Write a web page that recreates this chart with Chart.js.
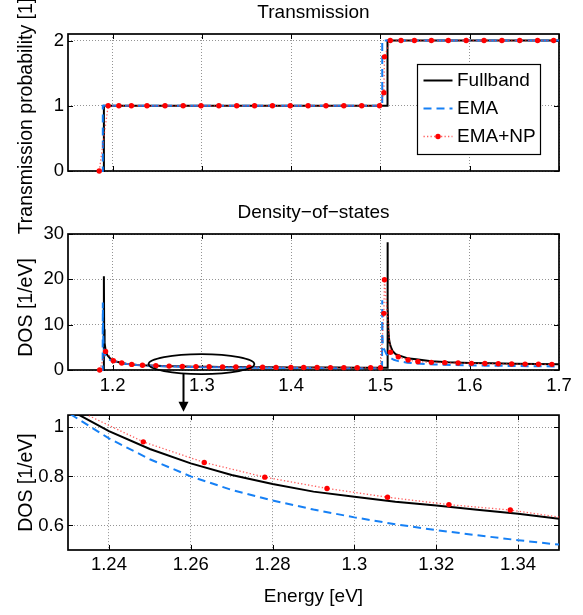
<!DOCTYPE html>
<html><head><meta charset="utf-8">
<script src="https://cdn.jsdelivr.net/npm/chart.js@4/dist/chart.umd.min.js"></script>
<style>
html,body{margin:0;padding:0;background:#fff;}
#wrap{position:relative;width:583px;height:615px;overflow:hidden;background:#fff;}
canvas{position:absolute;left:0;}
</style></head><body>
<div id="wrap">
<canvas id="c1" width="583" height="240" style="top:0px"></canvas>
<canvas id="c2" width="583" height="225" style="top:195px"></canvas>
<canvas id="c3" width="583" height="215" style="top:400px"></canvas>
</div>
<script>
// ---------------- DATA ----------------
const seriesNames = ['Fullband', 'EMA', 'EMA+NP'];

// Transmission panel
const transFullE = [1.185, 1.1902, 1.1902, 1.5079, 1.5079, 1.7];
const transFullT = [0, 0, 1, 1, 2, 2];
const transEmaE  = [1.185, 1.189, 1.189, 1.502, 1.502, 1.7];
const transEmaT  = [0, 0, 1, 1, 2, 2];
const transNpE = [1.185, 1.195, 1.207, 1.221, 1.2385, 1.2587, 1.279, 1.299, 1.319, 1.339,
                  1.359, 1.379, 1.399, 1.419, 1.439, 1.459, 1.479, 1.499, 1.5038, 1.5045,
                  1.511, 1.523, 1.538, 1.557, 1.576, 1.596, 1.616, 1.636, 1.656, 1.676,
                  1.694];
const transNpT = [0, 1, 1, 1, 1, 1, 1, 1, 1, 1,
                  1, 1, 1, 1, 1, 1, 1, 1, 1.2, 1.75,
                  2, 2, 2, 2, 2, 2, 2, 2, 2, 2,
                  2];

// Density-of-states panel (also used by the zoomed panel)
const dosFullE = [1.185, 1.1901, 1.1902, 1.1905, 1.191, 1.192, 1.194, 1.197, 1.2, 1.205,
                  1.21, 1.215, 1.22, 1.225, 1.23, 1.24, 1.25, 1.26, 1.27, 1.28,
                  1.29, 1.3, 1.31, 1.32, 1.33, 1.34, 1.35, 1.375, 1.4, 1.425,
                  1.45, 1.475, 1.5, 1.5077, 1.5079, 1.5082, 1.5088, 1.5098, 1.5112, 1.5135,
                  1.517, 1.524, 1.53, 1.54, 1.557, 1.576, 1.6, 1.625, 1.65, 1.675,
                  1.7];
const dosFull  = [0, 0, 20.7, 9, 6, 4.5, 3.3, 2.6, 2.2, 1.8,
                  1.55, 1.38, 1.26, 1.16, 1.075, 0.985, 0.912, 0.853, 0.806, 0.769,
                  0.738, 0.717, 0.697, 0.681, 0.664, 0.648, 0.627, 0.595, 0.57, 0.55,
                  0.53, 0.515, 0.5, 0.495, 28.2, 14, 9, 6.5, 5.3, 4.2,
                  3.5, 3.0, 2.6, 2.35, 1.95, 1.72, 1.55, 1.47, 1.4, 1.32,
                  1.25];
const dosEmaE = [1.185, 1.1888, 1.189, 1.1893, 1.1898, 1.1905, 1.192, 1.195, 1.2, 1.21,
                 1.22, 1.23, 1.24, 1.25, 1.26, 1.27, 1.28, 1.29, 1.3, 1.31,
                 1.32, 1.33, 1.34, 1.35, 1.375, 1.4, 1.425, 1.45, 1.475, 1.5,
                 1.5018, 1.502, 1.5022, 1.5026, 1.5035, 1.505, 1.5067, 1.51, 1.515, 1.52,
                 1.53, 1.54, 1.55, 1.56, 1.58, 1.6, 1.62, 1.65, 1.675, 1.7];
const dosEma  = [0, 0, 14.9, 8.5, 5.5, 4.0, 3.0, 2.4, 1.95, 1.5,
                 1.25, 1.06, 0.955, 0.87, 0.8, 0.745, 0.702, 0.665, 0.633, 0.605,
                 0.581, 0.56, 0.54, 0.522, 0.485, 0.455, 0.43, 0.41, 0.395, 0.38,
                 0.38, 15.4, 8, 6.0, 4.9, 4.2, 3.5, 2.8, 2.25, 1.96,
                 1.62, 1.44, 1.32, 1.23, 1.1, 1.03, 0.96, 0.88, 0.83, 0.78];
const dosNpE = [1.1855, 1.1921, 1.2008, 1.2102, 1.2214, 1.2334, 1.2484, 1.2633, 1.2781, 1.2933,
                1.3081, 1.3231, 1.3381, 1.3531, 1.368, 1.383, 1.3997, 1.414, 1.429, 1.444,
                1.459, 1.474, 1.489, 1.5, 1.5038, 1.5045, 1.5112, 1.52, 1.531, 1.542,
                1.557, 1.572, 1.587, 1.602, 1.617, 1.632, 1.647, 1.662, 1.677, 1.692];
const dosNp  = [0, 4.1, 2.05, 1.55, 1.24, 1.061, 0.941, 0.857, 0.797, 0.751,
                0.715, 0.685, 0.663, 0.627, 0.595, 0.575, 0.56, 0.548, 0.536, 0.525,
                0.515, 0.505, 0.497, 0.49, 12.5, 19.9, 3.9, 2.9, 2.2, 1.84,
                1.69, 1.62, 1.55, 1.47, 1.42, 1.38, 1.33, 1.3, 1.27, 1.25];

// Axis ticks
const mainXTicks  = [1.2, 1.3, 1.4, 1.5, 1.6, 1.7];
const transYTicks = [0, 1, 2];
const dosYTicks   = [0, 10, 20, 30];
const zoomXTicks  = [1.24, 1.26, 1.28, 1.3, 1.32, 1.34];
const zoomYTicks  = [0.6, 0.8, 1];

// Zoom annotation (data units of DOS panel)
const zoomEllipse = {cx: 1.2995, cy: 1.3, rx: 0.0593, ry: 2.2, arrowX: 1.2787};

// ---------------- STYLE ----------------
const FONT = "'Liberation Sans', Arial, Helvetica, sans-serif";
const BLUE = 'rgb(22,128,245)';
const GRID = 'rgba(0,0,0,0.42)';
Chart.defaults.font.family = FONT;
Chart.defaults.font.size = 18.5;
Chart.defaults.color = '#000';

const fmt = v => String(parseFloat(Number(v).toFixed(6)));
const xy = (xs, ys) => xs.map((v, i) => ({x: v, y: ys[i]}));
// trailing spaces shift a centred, rotated axis title towards the axis bottom
const padTitle = (t, n) => t + '\u00a0'.repeat(n);

function makeDatasets(full, ema, np, clip) {
  return [
    {label: seriesNames[0], data: full, borderColor: '#000', borderWidth: 2, pointRadius: 0, order: 3, clip},
    {label: seriesNames[1], data: ema, borderColor: BLUE, borderWidth: 2, borderDash: [8, 5], pointRadius: 0, order: 2, clip},
    {label: seriesNames[2], data: np, borderColor: 'rgba(255,40,40,0.75)', borderWidth: 1.3, borderDash: [1.3, 2.2],
     pointRadius: 2.7, pointBackgroundColor: '#ff0000', pointBorderColor: '#ff0000', pointBorderWidth: 0, order: 1, clip}
  ];
}

const frameTicks = {
  id: 'frameTicks',
  beforeDatasetsDraw(chart) {
    const {ctx, chartArea: a, scales: {x, y}} = chart;
    ctx.save();
    ctx.strokeStyle = '#000';
    ctx.lineWidth = 1;
    ctx.beginPath();
    x.ticks.forEach(t => {
      const p = Math.round(x.getPixelForValue(t.value)) + 0.5;
      ctx.moveTo(p, a.bottom); ctx.lineTo(p, a.bottom - 5);
      ctx.moveTo(p, a.top); ctx.lineTo(p, a.top + 5);
    });
    y.ticks.forEach(t => {
      const p = Math.round(y.getPixelForValue(t.value)) + 0.5;
      ctx.moveTo(a.left, p); ctx.lineTo(a.left + 5, p);
      ctx.moveTo(a.right, p); ctx.lineTo(a.right - 5, p);
    });
    ctx.stroke();
    ctx.lineWidth = 1.7;
    ctx.strokeRect(a.left, a.top, a.right - a.left, a.bottom - a.top);
    ctx.restore();
  }
};

const boxLegend = {
  id: 'boxLegend',
  afterDatasetsDraw(chart, args, o) {
    if (!o.show) return;
    const {ctx, chartArea: a} = chart;
    const bx = Math.round(a.right - o.offRight - o.w) + 0.5, by = Math.round(a.top + o.offTop) + 0.5;
    ctx.save();
    ctx.fillStyle = '#fff';
    ctx.fillRect(bx, by, o.w, o.h);
    ctx.strokeStyle = '#000'; ctx.lineWidth = 1.2;
    ctx.strokeRect(bx, by, o.w, o.h);
    ctx.font = '19px ' + FONT;
    ctx.textBaseline = 'middle';
    chart.data.datasets.forEach((ds, i) => {
      const yy = by + o.first + o.step * i;
      ctx.save();
      ctx.strokeStyle = ds.borderColor; ctx.lineWidth = ds.borderWidth;
      ctx.setLineDash(ds.borderDash || []);
      ctx.beginPath(); ctx.moveTo(bx + 6, yy); ctx.lineTo(bx + 35, yy); ctx.stroke();
      if (ds.pointRadius > 0) {
        ctx.fillStyle = ds.pointBackgroundColor;
        ctx.beginPath(); ctx.arc(bx + 20.5, yy, ds.pointRadius, 0, Math.PI * 2); ctx.fill();
      }
      ctx.restore();
      ctx.fillStyle = '#000';
      ctx.fillText(ds.label, bx + 39.5, yy);
    });
    ctx.restore();
  }
};

const zoomMark = {
  id: 'zoomMark',
  afterDatasetsDraw(chart, args, o) {
    if (!o.show) return;
    const {ctx, scales: {x, y}} = chart;
    const e = zoomEllipse;
    const cx = x.getPixelForValue(e.cx), cy = y.getPixelForValue(e.cy);
    const rx = x.getPixelForValue(e.cx + e.rx) - cx, ry = cy - y.getPixelForValue(e.cy + e.ry);
    ctx.save();
    ctx.strokeStyle = '#000'; ctx.fillStyle = '#000'; ctx.lineWidth = 1.7;
    ctx.beginPath(); ctx.ellipse(cx, cy, rx, ry, 0, 0, Math.PI * 2); ctx.stroke();
    const ax = Math.round(x.getPixelForValue(e.arrowX)) + 0.5;
    const t = (ax - cx) / rx;
    const y0 = cy + ry * Math.sqrt(Math.max(0, 1 - t * t));
    const tip = chart.height - o.tipUp;
    ctx.lineWidth = 2;
    ctx.beginPath(); ctx.moveTo(ax, y0); ctx.lineTo(ax, tip - 8); ctx.stroke();
    ctx.beginPath(); ctx.moveTo(ax - 5, tip - 10); ctx.lineTo(ax + 5, tip - 10); ctx.lineTo(ax, tip); ctx.closePath(); ctx.fill();
    ctx.restore();
  }
};

function yScale(min, max, ticks, title) {
  return {
    type: 'linear', min, max,
    afterBuildTicks: s => { s.ticks = ticks.map(v => ({value: v})); },
    ticks: {padding: 4, callback: fmt, font: {size: 18.5}},
    grid: {color: GRID, lineWidth: 1, drawTicks: false},
    border: {display: false, dash: [1, 2]},
    title: {display: true, text: title, font: {size: 19.5}, padding: {top: 15, bottom: 0}},
    afterFit: s => { s.width = 68; }
  };
}
function xScale(min, max, ticks, showLabels, height, pad, title) {
  const sc = {
    type: 'linear', min, max,
    afterBuildTicks: s => { s.ticks = ticks.map(v => ({value: v})); },
    ticks: {display: showLabels, padding: pad, callback: fmt, maxRotation: 0, minRotation: 0, autoSkip: false, font: {size: 18.5}},
    grid: {color: GRID, lineWidth: 1, drawTicks: false},
    border: {display: false, dash: [1, 2]},
    afterFit: s => { s.height = height; }
  };
  if (title) sc.title = {display: true, text: title, font: {size: 19}, padding: {top: 0, bottom: 6.6}};
  return sc;
}
function titleOpts(text, pt, pb) {
  return text ? {display: true, text, fullSize: false, color: '#000', font: {size: 19, weight: 'normal'}, padding: {top: pt, bottom: pb}} : {display: false};
}
function makeChart(id, cfg) {
  return new Chart(document.getElementById(id), {
    type: 'line',
    data: {datasets: cfg.datasets},
    options: {
      responsive: false, animation: false, devicePixelRatio: 1, events: [],
      layout: {padding: cfg.padding},
      scales: {x: cfg.x, y: cfg.y},
      plugins: {
        legend: {display: false}, tooltip: {enabled: false},
        title: cfg.title,
        boxLegend: cfg.legend || {show: false},
        zoomMark: cfg.zoom || {show: false}
      }
    },
    plugins: [frameTicks, boxLegend, zoomMark]
  });
}

// Transmission
makeChart('c1', {
  datasets: makeDatasets(xy(transFullE, transFullT), xy(transEmaE, transEmaT), xy(transNpE, transNpT), 5),
  padding: {left: 0, right: 24, top: 0, bottom: 69},
  x: xScale(1.15, 1.7, mainXTicks, false, 0, 0),
  y: yScale(0, 2.1, transYTicks, padTitle('Transmission probability [1]', 5)),
  title: titleOpts('Transmission', 1.6, 9.6),
  legend: {show: true, offRight: 19, offTop: 30, w: 123, h: 90, first: 16, step: 28}
});

// Density of states
makeChart('c2', {
  datasets: makeDatasets(xy(dosFullE, dosFull), xy(dosEmaE, dosEma), xy(dosNpE, dosNp), 5),
  padding: {left: 0, right: 24, top: 0, bottom: 0},
  x: xScale(1.15, 1.7, mainXTicks, true, 50, 4.9),
  y: yScale(0, 30, dosYTicks, padTitle('DOS [1/eV]', 2)),
  title: titleOpts('Density\u2212of\u2212states', 6.1, 10.1),
  zoom: {show: true, tipUp: 8.3}
});

// Zoomed DOS
makeChart('c3', {
  datasets: makeDatasets(xy(dosFullE, dosFull), xy(dosEmaE, dosEma), xy(dosNpE, dosNp), 0),
  padding: {left: 0, right: 24, top: 14, bottom: 0},
  x: xScale(1.23, 1.35, zoomXTicks, true, 65, 3.9, 'Energy [eV]'),
  y: yScale(0.5, 1.05, zoomYTicks, 'DOS [1/eV]'),
  title: titleOpts(null)
});
</script>
</body></html>
